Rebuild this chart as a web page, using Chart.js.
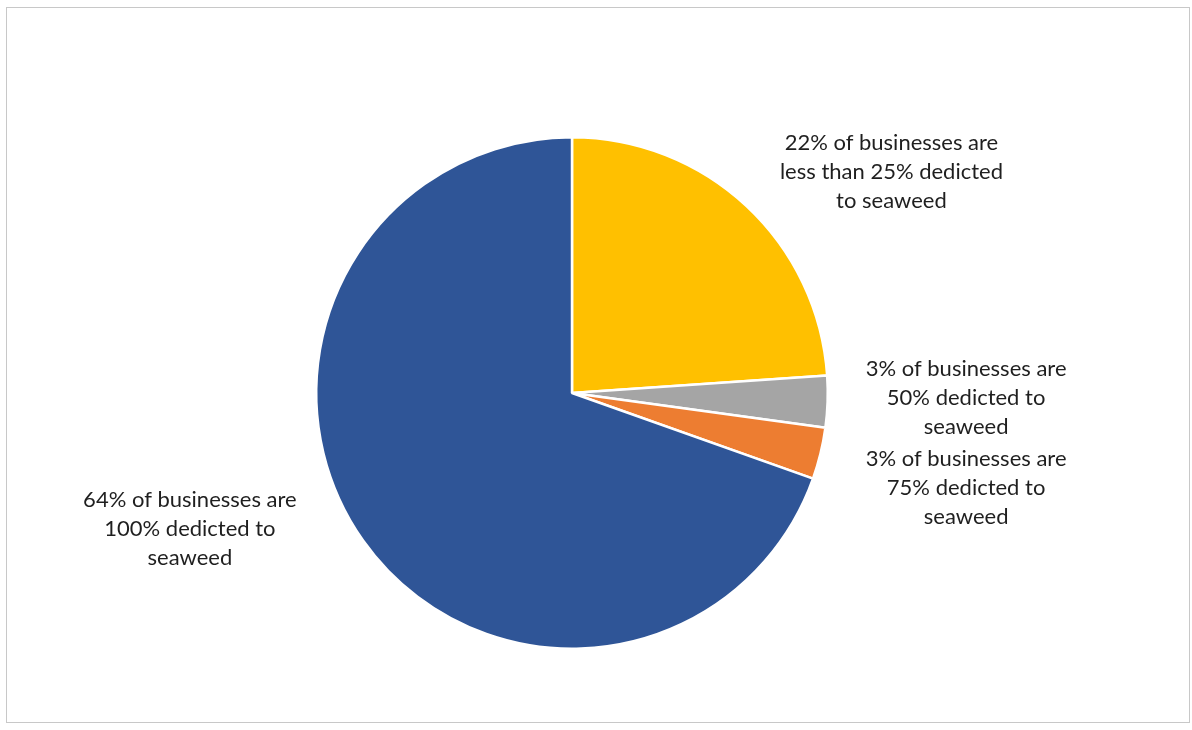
<!DOCTYPE html>
<html>
<head>
<meta charset="utf-8">
<script src="https://cdn.jsdelivr.net/npm/chart.js@4"></script>
<style>
  html, body { margin: 0; padding: 0; background: #fff; }
  #wrap { position: relative; width: 1192px; height: 730px; }
  #frame {
    position: absolute; left: 6px; top: 7px; width: 1184px; height: 716px;
    border: 1px solid #c8c8c8; box-sizing: border-box; pointer-events: none;
  }
</style>
</head>
<body>
<div id="wrap">
  <canvas id="pie" width="1192" height="730"></canvas>
  <div id="frame"></div>
</div>
<script>
"use strict";

// share of businesses by how much of their work is seaweed
var categories = ["less than 25%", "50%", "75%", "100%"];
var shares = [22, 3, 3, 64];
var sliceColors = ["#FFC000", "#A5A5A5", "#ED7D31", "#2F5597"];
var labelLines = [
  ["22% of businesses are", "less than 25% dedicted", "to seaweed"],
  ["3% of businesses are", "50% dedicted to", "seaweed"],
  ["3% of businesses are", "75% dedicted to", "seaweed"],
  ["64% of businesses are", "100% dedicted to", "seaweed"]
];
// where each label sits, in pie radii from the centre
var labelOffsets = [
  [1.249, -0.864],
  [1.541, 0.019],
  [1.541, 0.370],
  [-1.494, 0.533]
];

/**
 * Draws the multi-line callouts next to the slices.
 */
var calloutPlugin = {
  id: "callouts",
  afterDatasetsDraw: function (chart) {
    var ctx = chart.ctx;
    var arcs = chart.getDatasetMeta(0).data;
    ctx.save();
    ctx.font = "22px Lato";
    ctx.fillStyle = "#1f1f1f";
    ctx.textAlign = "center";
    ctx.textBaseline = "middle";
    for (var i = 0; i < arcs.length; i++) {
      var arc = arcs[i];
      var r = arc.outerRadius;
      var cx = arc.x + labelOffsets[i][0] * r;
      var cy = arc.y + labelOffsets[i][1] * r;
      var lines = labelLines[i];
      var lh = 29;
      for (var j = 0; j < lines.length; j++) {
        ctx.fillText(lines[j], cx, cy + (j - (lines.length - 1) / 2) * lh);
      }
    }
    ctx.restore();
  }
};

var ctx = document.getElementById("pie").getContext("2d");
var chart = new Chart(ctx, {
  type: "pie",
  data: {
    labels: categories,
    datasets: [
      {
        data: shares,
        backgroundColor: sliceColors,
        borderColor: "#ffffff",
        borderWidth: 2.5
      }
    ]
  },
  options: {
    responsive: false,
    animation: false,
    layout: { padding: { top: 136, bottom: 80, left: 315, right: 363 } },
    plugins: {
      legend: { display: false },
      tooltip: { enabled: false }
    }
  },
  plugins: [calloutPlugin]
});
</script>
</body>
</html>
